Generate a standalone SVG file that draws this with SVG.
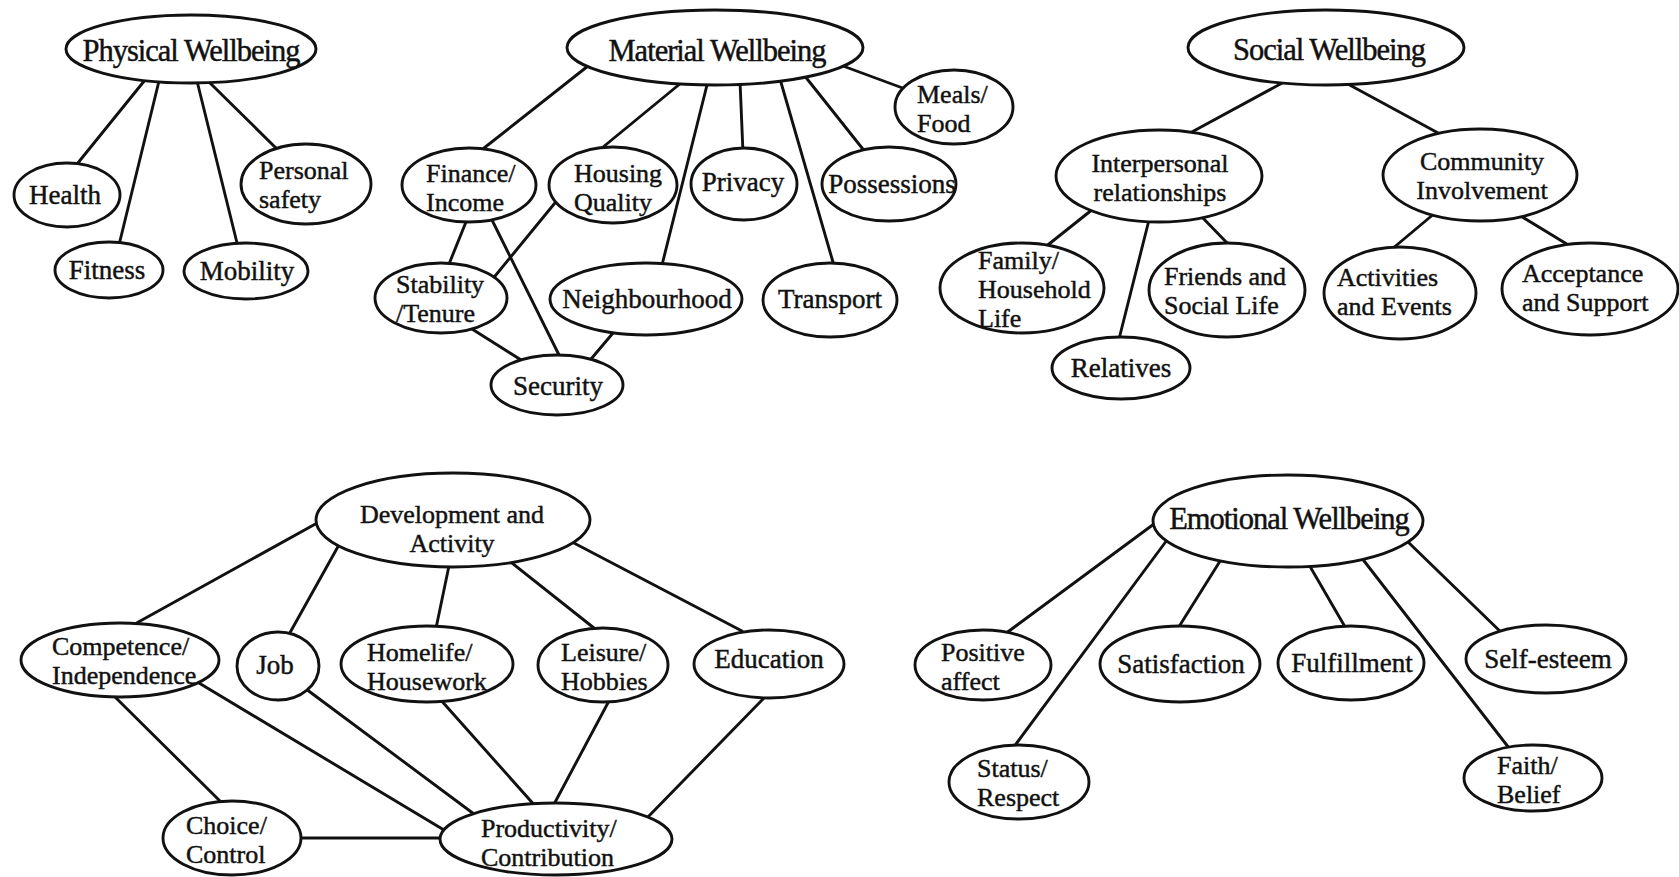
<svg xmlns="http://www.w3.org/2000/svg" width="1679" height="877" viewBox="0 0 1679 877">
<style>
.bg{fill:#fff}
.node ellipse{fill:#fff;stroke:#111;stroke-width:2.9}
#connectors line{stroke:#111;stroke-width:2.9;stroke-linecap:round}
text{font-family:"Liberation Serif","Times New Roman",serif;font-size:27px;fill:#111;stroke:#111;stroke-width:0.45}
text.t{font-size:26px}
text.h{font-size:30.5px;letter-spacing:-1px}
text.m{text-anchor:middle}
</style>
<rect class="bg" x="0" y="0" width="1679" height="877"/>
<g id="connectors">
<line x1="145" y1="80" x2="73" y2="169"/>
<line x1="159" y1="81" x2="118" y2="249"/>
<line x1="197" y1="81" x2="239" y2="251"/>
<line x1="210" y1="83" x2="279" y2="151"/>
<line x1="588" y1="66" x2="479" y2="152"/>
<line x1="681" y1="83" x2="597" y2="152"/>
<line x1="708" y1="81" x2="661" y2="269"/>
<line x1="740" y1="81" x2="743" y2="153"/>
<line x1="780" y1="79" x2="835" y2="269"/>
<line x1="804" y1="75" x2="866" y2="153"/>
<line x1="843" y1="66" x2="908" y2="90"/>
<line x1="468" y1="217" x2="447" y2="269"/>
<line x1="490" y1="216" x2="563" y2="363"/>
<line x1="472" y1="329" x2="526" y2="363"/>
<line x1="559" y1="198" x2="491" y2="281"/>
<line x1="613" y1="333" x2="586" y2="365"/>
<line x1="1284" y1="82" x2="1190" y2="133"/>
<line x1="1346" y1="83" x2="1440" y2="134"/>
<line x1="1093" y1="209" x2="1044" y2="248"/>
<line x1="1150" y1="216" x2="1118" y2="343"/>
<line x1="1199" y1="214" x2="1231" y2="247"/>
<line x1="1435" y1="213" x2="1392" y2="249"/>
<line x1="1519" y1="215" x2="1570" y2="246"/>
<line x1="319" y1="522" x2="133" y2="625"/>
<line x1="340" y1="543" x2="287" y2="638"/>
<line x1="450" y1="561" x2="435" y2="633"/>
<line x1="508" y1="560" x2="599" y2="632"/>
<line x1="572" y1="542" x2="742" y2="631"/>
<line x1="112" y1="694" x2="223" y2="804"/>
<line x1="194" y1="680" x2="449" y2="833"/>
<line x1="306" y1="689" x2="478" y2="817"/>
<line x1="439" y1="698" x2="537" y2="808"/>
<line x1="610" y1="699" x2="552" y2="808"/>
<line x1="764" y1="698" x2="646" y2="819"/>
<line x1="295" y1="838" x2="447" y2="838"/>
<line x1="1158" y1="521" x2="1005" y2="634"/>
<line x1="1167" y1="540" x2="1013" y2="748"/>
<line x1="1222" y1="558" x2="1175" y2="633"/>
<line x1="1308" y1="563" x2="1348" y2="632"/>
<line x1="1361" y1="557" x2="1509" y2="748"/>
<line x1="1407" y1="541" x2="1506" y2="637"/>
</g>
<g id="n-physical" class="node"><ellipse cx="191" cy="49" rx="125" ry="34"/><text class="h m" x="191" y="61">Physical Wellbeing</text></g>
<g id="n-health" class="node"><ellipse cx="67" cy="195" rx="53" ry="32"/><text class="m" x="65" y="204">Health</text></g>
<g id="n-fitness" class="node"><ellipse cx="109" cy="270" rx="54" ry="28"/><text class="m" x="107" y="279">Fitness</text></g>
<g id="n-mobility" class="node"><ellipse cx="246" cy="271" rx="62" ry="28"/><text class="m" x="247" y="280">Mobility</text></g>
<g id="n-personal" class="node"><ellipse cx="306" cy="184" rx="65" ry="40"/><text class="t" x="259" y="179">Personal<tspan x="259" y="208">safety</tspan></text></g>
<g id="n-material" class="node"><ellipse cx="715" cy="47.5" rx="148" ry="37.5"/><text class="h m" x="717" y="61">Material Wellbeing</text></g>
<g id="n-finance" class="node"><ellipse cx="469" cy="185" rx="67" ry="37"/><text class="t" x="426" y="181.5">Finance/<tspan x="426" y="210.5">Income</tspan></text></g>
<g id="n-housing" class="node"><ellipse cx="613" cy="185" rx="64" ry="38"/><text class="t" x="574" y="181.5">Housing<tspan x="574" y="210.5">Quality</tspan></text></g>
<g id="n-privacy" class="node"><ellipse cx="744" cy="184" rx="53" ry="36"/><text class="m" x="743" y="191">Privacy</text></g>
<g id="n-possessions" class="node"><ellipse cx="889" cy="184" rx="67" ry="37"/><text class="m" x="892" y="193">Possessions</text></g>
<g id="n-meals" class="node"><ellipse cx="954" cy="107" rx="59" ry="37"/><text class="t" x="917" y="102.5">Meals/<tspan x="917" y="131.5">Food</tspan></text></g>
<g id="n-stability" class="node"><ellipse cx="441" cy="298" rx="66" ry="35"/><text class="t" x="396" y="293">Stability<tspan x="396" y="322">/Tenure</tspan></text></g>
<g id="n-neighbourhood" class="node"><ellipse cx="646" cy="299" rx="96" ry="36"/><text class="m" x="647" y="308">Neighbourhood</text></g>
<g id="n-transport" class="node"><ellipse cx="830" cy="300" rx="67" ry="37"/><text class="m" x="830" y="308">Transport</text></g>
<g id="n-security" class="node"><ellipse cx="557" cy="385" rx="66" ry="30"/><text class="m" x="558" y="395">Security</text></g>
<g id="n-social" class="node"><ellipse cx="1326" cy="47.5" rx="138" ry="37.5"/><text class="h m" x="1329" y="60">Social Wellbeing</text></g>
<g id="n-interpersonal" class="node"><ellipse cx="1159" cy="176" rx="103" ry="46"/><text class="t m" x="1160" y="171.5">Interpersonal<tspan x="1160" y="200.5">relationships</tspan></text></g>
<g id="n-community" class="node"><ellipse cx="1480" cy="175" rx="97" ry="46"/><text class="t m" x="1482" y="169.5">Community<tspan x="1482" y="198.5">Involvement</tspan></text></g>
<g id="n-family" class="node"><ellipse cx="1022" cy="288" rx="82" ry="45"/><text class="t" x="978" y="269">Family/<tspan x="978" y="298">Household</tspan><tspan x="978" y="327">Life</tspan></text></g>
<g id="n-relatives" class="node"><ellipse cx="1121" cy="368" rx="69" ry="31"/><text class="m" x="1121" y="377">Relatives</text></g>
<g id="n-friends" class="node"><ellipse cx="1227" cy="290" rx="78" ry="47"/><text class="t" x="1164" y="285">Friends and<tspan x="1164" y="314">Social Life</tspan></text></g>
<g id="n-activities" class="node"><ellipse cx="1400" cy="293" rx="76" ry="46"/><text class="t" x="1337" y="285.5">Activities<tspan x="1337" y="314.5">and Events</tspan></text></g>
<g id="n-acceptance" class="node"><ellipse cx="1590" cy="289" rx="88" ry="46"/><text class="t" x="1522" y="282">Acceptance<tspan x="1522" y="311">and Support</tspan></text></g>
<g id="n-development" class="node"><ellipse cx="453" cy="520" rx="137" ry="47"/><text class="t m" x="452" y="522.5">Development and<tspan x="452" y="551.5">Activity</tspan></text></g>
<g id="n-competence" class="node"><ellipse cx="120" cy="660" rx="99" ry="37"/><text class="t" x="52" y="655">Competence/<tspan x="52" y="684">Independence</tspan></text></g>
<g id="n-job" class="node"><ellipse cx="278" cy="666" rx="41" ry="34"/><text class="m" x="275" y="674">Job</text></g>
<g id="n-homelife" class="node"><ellipse cx="427" cy="664" rx="86" ry="38"/><text class="t" x="367" y="660.5">Homelife/<tspan x="367" y="689.5">Housework</tspan></text></g>
<g id="n-leisure" class="node"><ellipse cx="603" cy="665" rx="65" ry="37"/><text class="t" x="561" y="660.5">Leisure/<tspan x="561" y="689.5">Hobbies</tspan></text></g>
<g id="n-education" class="node"><ellipse cx="769" cy="664" rx="75" ry="34"/><text class="m" x="769" y="668">Education</text></g>
<g id="n-choice" class="node"><ellipse cx="232" cy="838" rx="69" ry="37"/><text class="t" x="186" y="833.5">Choice/<tspan x="186" y="862.5">Control</tspan></text></g>
<g id="n-productivity" class="node"><ellipse cx="556" cy="839" rx="116" ry="36"/><text class="t" x="481" y="837">Productivity/<tspan x="481" y="866">Contribution</tspan></text></g>
<g id="n-emotional" class="node"><ellipse cx="1288" cy="521" rx="135" ry="46"/><text class="h m" x="1289" y="529">Emotional Wellbeing</text></g>
<g id="n-positive" class="node"><ellipse cx="983" cy="665" rx="68" ry="35"/><text class="t" x="941" y="660.5">Positive<tspan x="941" y="689.5">affect</tspan></text></g>
<g id="n-satisfaction" class="node"><ellipse cx="1180" cy="664" rx="80" ry="38"/><text class="m" x="1181" y="673">Satisfaction</text></g>
<g id="n-fulfillment" class="node"><ellipse cx="1351" cy="663" rx="73" ry="37"/><text class="m" x="1352" y="672">Fulfillment</text></g>
<g id="n-selfesteem" class="node"><ellipse cx="1546" cy="659" rx="80" ry="34"/><text class="m" x="1548" y="668">Self-esteem</text></g>
<g id="n-status" class="node"><ellipse cx="1019" cy="782" rx="70" ry="37"/><text class="t" x="977" y="777">Status/<tspan x="977" y="806">Respect</tspan></text></g>
<g id="n-faith" class="node"><ellipse cx="1533" cy="778" rx="69" ry="33"/><text class="t" x="1497" y="773.5">Faith/<tspan x="1497" y="802.5">Belief</tspan></text></g>
</svg>
